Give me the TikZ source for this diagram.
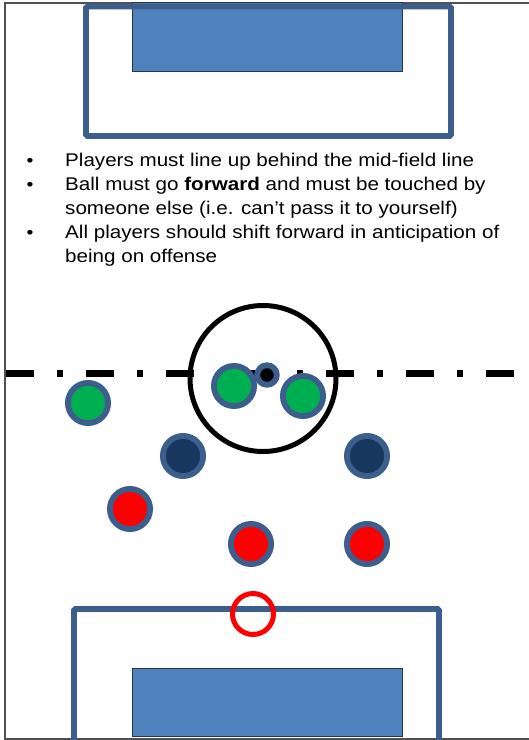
\documentclass[tikz,border=0pt]{standalone}
\usepackage{fontspec}
\setmainfont{Liberation Sans}[FakeStretch=1.12]
\definecolor{boxblue}{RGB}{59,94,140}
\definecolor{goalfill}{RGB}{79,129,189}
\definecolor{goaledge}{RGB}{40,52,72}
\definecolor{navy}{RGB}{23,55,94}
\definecolor{pgreen}{RGB}{0,176,80}
\definecolor{framegray}{RGB}{80,80,80}
\begin{document}
\begin{tikzpicture}[x=1pt,y=-1pt,
  frameline/.style={draw=framegray,line width=1.3pt},
  penbox/.style={draw=boxblue,line width=5.8pt,rounded corners=1.5pt},
  goalbox/.style={draw=goaledge,fill=goalfill,line width=0.9pt},
  player/.style={circle,draw=boxblue,line width=5.8pt,minimum size=40.2pt,inner sep=0pt},
  green/.style={player,fill=pgreen},
  dark/.style={player,fill=navy},
  red/.style={player,fill=red},
  ballst/.style={circle,draw=boxblue,line width=5.8pt,fill=black,minimum size=19.6pt,inner sep=0pt},
  keeper/.style={circle,draw=red,line width=5pt,minimum size=41pt,inner sep=0pt},
  txt/.style={anchor=base west,inner sep=0pt,font=\fontsize{18.4}{20}\selectfont},
  bul/.style={anchor=base,inner sep=0pt,font=\fontsize{17.5}{20}\selectfont},
  midline/.style={draw=black,line width=7pt,dash pattern=on 28pt off 23pt on 6pt off 23pt}
]
\useasboundingbox (0,0) rectangle (529,740);
% page frame
\draw[frameline] (529,3) -- (5,3) -- (5,739) -- (529,739);
% top goal and penalty box
\draw[goalbox] (132,2) rectangle (402,71);
\draw[penbox] (86,6.5) rectangle (451,136);
% bullets
\node[bul] (b1) at (30,166.5) {•};
\node[txt] (t1) at (65,166.5) {Players must line up behind the mid-field line};
\node[bul] (b2) at (30,190.6) {•};
\node[txt] (t2) at (65,190.6) {Ball must go \textbf{forward} and must be touched by};
\node[txt] (t3) at (65,214.7) {someone else (i.e. can’t pass it to yourself)};
\node[bul] (b3) at (30,238.8) {•};
\node[txt] (t4) at (65,238.8) {All players should shift forward in anticipation of};
\node[txt] (t5) at (65,262.9) {being on offense};
% mid-field line and centre circle
\coordinate (mlA) at (6,373);
\coordinate (mlB) at (514,373);
\draw[midline] (mlA) -- (mlB);
\node[circle,draw=black,line width=5pt,minimum size=146pt,inner sep=0pt] (cc) at (263,378.5) {};
% bottom penalty box and goal
\draw[goalbox] (132,668) rectangle (402,736);
\draw[penbox] (74,745) -- (74,609) -- (439,609) -- (439,745);
% players
\node[green] (g1) at (88,403) {};
\node[green] (g2) at (234,386) {};
\node[green] (g3) at (303,396) {};
\node[ballst] (ball) at (267,375) {};
\node[dark] (d1) at (183,456) {};
\node[dark] (d2) at (367,456) {};
\node[red] (r1) at (130,509) {};
\node[red] (r2) at (251,544) {};
\node[red] (r3) at (367,544) {};
\node[keeper] (k) at (253,614) {};
\end{tikzpicture}
\end{document}
